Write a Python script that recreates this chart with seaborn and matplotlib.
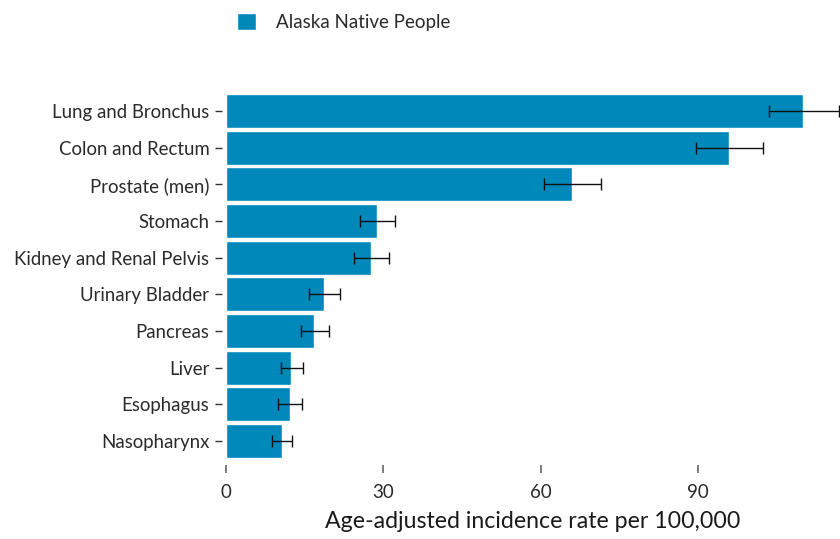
import matplotlib
matplotlib.use("Agg")
import matplotlib.pyplot as plt
import seaborn as sns
import pandas as pd
import numpy as np

categories = ["Lung and Bronchus", "Colon and Rectum", "Prostate (men)", "Stomach",
              "Kidney and Renal Pelvis", "Urinary Bladder", "Pancreas", "Liver",
              "Esophagus", "Nasopharynx"]
rates = [110.0, 95.9, 65.9, 28.8, 27.7, 18.7, 16.8, 12.4, 12.2, 10.7]
ci_low = [103.4, 89.5, 60.6, 25.6, 24.4, 15.8, 14.2, 10.4, 10.0, 8.8]
ci_high = [116.9, 102.3, 71.5, 32.2, 31.0, 21.7, 19.6, 14.7, 14.5, 12.6]
series_name = "Alaska Native People"
xticks = [0, 30, 60, 90]

sns.set_theme(style="white")
plt.rcParams['font.family'] = ['Lato', 'DejaVu Sans']

df = pd.DataFrame({"Cancer": categories, "Rate": rates, "Group": series_name})

fig = plt.figure(figsize=(8.4, 5.39), dpi=100)
ax = fig.add_axes([226/840, 1-459.3/539, (840-226)/840, (459.3-92.7)/539])

color = "#0088bb"
sns.barplot(data=df, x="Rate", y="Cancer", hue="Group", palette=[color],
            width=0.93, ax=ax, saturation=1, legend=True)

ypos = np.arange(len(categories))
xerr = np.array([np.array(rates) - np.array(ci_low), np.array(ci_high) - np.array(rates)])
ax.errorbar(rates, ypos, xerr=xerr, fmt="none", ecolor="#111111", elinewidth=1.0,
            capsize=4, capthick=1.0, clip_on=False, zorder=5)

ax.set_xlim(0, 117)
ax.set_ylim(len(categories) - 0.5, -0.5)
ax.set_xticks(xticks)
ax.set_xticklabels([str(t) for t in xticks])
ax.set_ylabel("")
ax.set_xlabel("Age-adjusted incidence rate per 100,000", fontsize=16.7, color="#1a1a1a", labelpad=7)

for s in ax.spines.values():
    s.set_visible(False)
ax.spines['bottom'].set_position(('outward', 4.3))
ax.spines['left'].set_position(('outward', 2.9))

ax.tick_params(axis='x', bottom=True, length=5.8, width=1.2, color="#666666",
               labelsize=13.5, labelcolor="#2a2a2a", pad=8)
ax.tick_params(axis='y', left=True, length=5, width=1, color="#333333",
               labelsize=13.4, labelcolor="#2a2a2a", pad=4)
ax.grid(False)

leg = ax.legend(loc="upper left", bbox_to_anchor=(224/840, 1.0), bbox_transform=fig.transFigure,
                frameon=False, fontsize=13.5, handlelength=1.0, handleheight=1.0,
                handletextpad=1.1, borderaxespad=0.3)
for t in leg.get_texts():
    t.set_color("#2a2a2a")

fig.savefig("out.png", dpi=100)
